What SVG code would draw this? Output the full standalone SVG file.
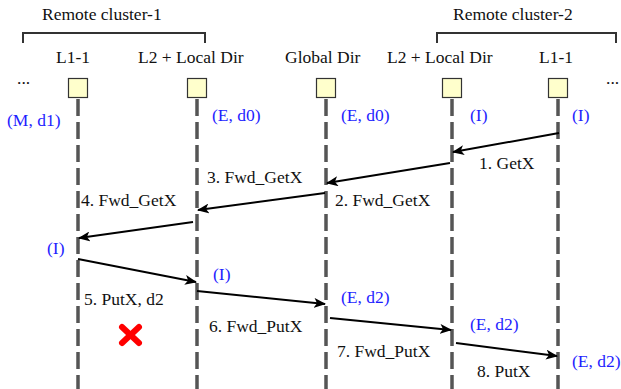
<svg xmlns="http://www.w3.org/2000/svg" width="621" height="389" viewBox="0 0 621 389">
  <style>
    text { font-family: "Liberation Serif", "Times New Roman", Times, serif; font-size: 17.5px; fill: #111; }
    .state { fill: #1e1eff; }
    .box { fill: #ffffcc; stroke: #333; stroke-width: 1.2; }
    .life { stroke: #555; stroke-width: 3.5; stroke-dasharray: 17 6; fill: none; }
    .bracket { fill: none; stroke: #333; stroke-width: 2; }
    .msg { stroke: #000; stroke-width: 2; fill: none; marker-end: url(#head); }
  </style>
  <defs>
    <marker id="head" viewBox="0 0 12 10" markerWidth="12" markerHeight="10" refX="11" refY="5" orient="auto" markerUnits="userSpaceOnUse">
      <path d="M0,0 L12,5 L0,10 L3,5 Z" fill="#000"/>
    </marker>
  </defs>

  <rect width="621" height="389" fill="#fff"/>

  <!-- cluster brackets -->
  <g id="cluster-1">
    <text x="42" y="20">Remote cluster-1</text>
    <path class="bracket" d="M23,43 V33 H205 V43"/>
  </g>
  <g id="cluster-2">
    <text x="453" y="20">Remote cluster-2</text>
    <path class="bracket" d="M437,43 V33 H616 V43"/>
  </g>

  <text x="17" y="84">...</text>
  <text x="606" y="84">...</text>

  <!-- participants -->
  <g id="l1-left">
    <text x="56" y="63">L1-1</text>
    <line class="life" x1="78" y1="99" x2="78" y2="389"/>
    <rect class="box" x="68.5" y="78.5" width="19" height="19"/>
  </g>
  <g id="l2-left">
    <text x="138" y="63">L2 + Local Dir</text>
    <line class="life" x1="197" y1="99" x2="197" y2="389"/>
    <rect class="box" x="187.5" y="78.5" width="19" height="19"/>
  </g>
  <g id="global-dir">
    <text x="285" y="63">Global Dir</text>
    <line class="life" x1="326" y1="99" x2="326" y2="389"/>
    <rect class="box" x="316.5" y="78.5" width="19" height="19"/>
  </g>
  <g id="l2-right">
    <text x="387" y="63">L2 + Local Dir</text>
    <line class="life" x1="452" y1="99" x2="452" y2="389"/>
    <rect class="box" x="442.5" y="78.5" width="19" height="19"/>
  </g>
  <g id="l1-right">
    <text x="539" y="63">L1-1</text>
    <line class="life" x1="558" y1="99" x2="558" y2="389"/>
    <rect class="box" x="548.5" y="78.5" width="19" height="19"/>
  </g>

  <!-- cache states -->
  <g id="states">
    <text class="state" x="7" y="126">(M, d1)</text>
    <text class="state" x="212" y="121">(E, d0)</text>
    <text class="state" x="341" y="121">(E, d0)</text>
    <text class="state" x="470" y="121">(I)</text>
    <text class="state" x="572" y="121">(I)</text>
    <text class="state" x="47" y="254">(I)</text>
    <text class="state" x="213" y="280">(I)</text>
    <text class="state" x="341" y="303">(E, d2)</text>
    <text class="state" x="470" y="330">(E, d2)</text>
    <text class="state" x="572" y="367">(E, d2)</text>
  </g>

  <!-- messages -->
  <g id="connectors">
    <line class="msg" x1="559" y1="133" x2="453" y2="152"/>
    <line class="msg" x1="450" y1="163" x2="327" y2="183"/>
    <line class="msg" x1="325" y1="193" x2="198" y2="210"/>
    <line class="msg" x1="193" y1="222" x2="79" y2="238"/>
    <line class="msg" x1="78" y1="259" x2="196" y2="282"/>
    <line class="msg" x1="197" y1="291" x2="325" y2="304"/>
    <line class="msg" x1="330" y1="318" x2="451" y2="330"/>
    <line class="msg" x1="456" y1="343" x2="557" y2="356"/>

    <text x="479" y="169">1. GetX</text>
    <text x="335" y="206">2. Fwd_GetX</text>
    <text x="207" y="183">3. Fwd_GetX</text>
    <text x="81" y="206">4. Fwd_GetX</text>
    <text x="84" y="305">5. PutX, d2</text>
    <text x="209" y="332">6. Fwd_PutX</text>
    <text x="337" y="357">7. Fwd_PutX</text>
    <text x="477" y="377">8. PutX</text>
  </g>

  <!-- dropped message mark -->
  <g id="drop-mark" stroke="#ff0000" stroke-width="6" stroke-linecap="round">
    <line x1="122" y1="327" x2="139" y2="343"/>
    <line x1="139" y1="327" x2="122" y2="343"/>
  </g>
</svg>
